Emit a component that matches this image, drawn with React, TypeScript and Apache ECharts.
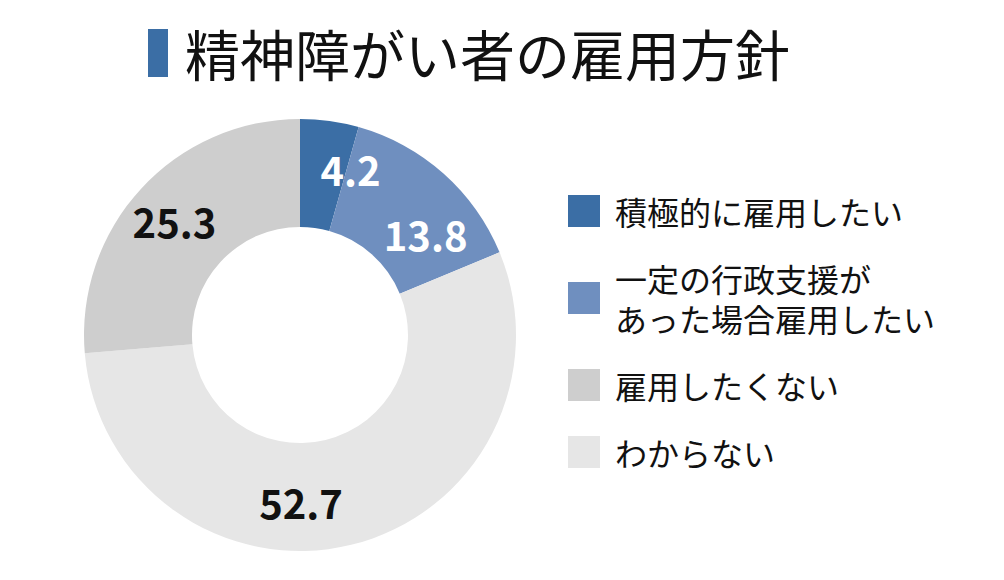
import React, { useEffect, useRef } from 'react';
import * as echarts from 'echarts';

const titleText = '精神障がい者の雇用方針';
// pie order, clockwise from 12 o'clock
const categories = [
  '積極的に雇用したい',
  '一定の行政支援があった場合雇用したい',
  'わからない',
  '雇用したくない',
];
const values = [4.2, 13.8, 52.7, 25.3];
const legendOrder = [0, 1, 3, 2]; // legend lists 雇用したくない before わからない
const legendBreaks: Record<string, string> = {
  '一定の行政支援があった場合雇用したい': '一定の行政支援が\nあった場合雇用したい',
};

const colors = ['#3b6ea5', '#6f8fbf', '#e6e6e6', '#cecece'];
const labelColors = ['#ffffff', '#ffffff', '#111111', '#111111'];
// nudges away from the default inside position
const labelShift = [
  [28, -3],
  [16, 22],
  [-38, 7],
  [-4, -2],
];

const FONT = '"Noto Sans CJK JP", "Noto Sans", sans-serif';

const App = () => {
  const chartRef = useRef(null);

  useEffect(() => {
    if (!chartRef.current) return;
    const chart = echarts.init(chartRef.current, null, { renderer: 'svg' });

    const option = {
      animation: false,
      backgroundColor: '#ffffff',
      title: {
        text: titleText,
        left: 185,
        top: 24,
        padding: 0,
        textStyle: {
          fontFamily: FONT,
          fontSize: 55,
          fontWeight: 'normal',
          color: '#111111',
        },
      },
      graphic: [
        {
          type: 'rect',
          shape: { x: 148, y: 29, width: 20, height: 48 },
          style: { fill: '#3b6ea5' },
        },
      ],
      legend: {
        orient: 'vertical',
        left: 563,
        top: 186,
        itemWidth: 32,
        itemHeight: 32,
        itemGap: 27,
        icon: 'rect',
        data: legendOrder.map((i) => categories[i]),
        formatter: (name) => legendBreaks[name] || name,
        textStyle: {
          fontFamily: FONT,
          fontSize: 32,
          lineHeight: 40,
          color: '#111111',
          padding: [0, 0, 0, 10],
        },
      },
      series: [
        {
          type: 'pie',
          center: [300, 335],
          radius: [108, 216],
          startAngle: 90,
          clockwise: true,
          avoidLabelOverlap: false,
          label: {
            show: true,
            position: 'inside',
            formatter: (p) => p.value.toFixed(1),
            fontFamily: FONT,
            fontSize: 40,
            fontWeight: 'bold',
          },
          labelLine: { show: false },
          emphasis: { disabled: true },
          labelLayout: (params) => ({
            dx: labelShift[params.dataIndex][0],
            dy: labelShift[params.dataIndex][1],
          }),
          data: categories.map((name, i) => ({
            name,
            value: values[i],
            itemStyle: { color: colors[i] },
            label: { color: labelColors[i] },
          })),
        },
      ],
    };

    chart.setOption(option);

    return () => {
      chart.dispose();
    };
  }, []);

  return (
    <div
      ref={chartRef}
      style={{ position: 'absolute', left: 0, top: 0, width: '1004px', height: '580px' }}
    />
  );
};

export default App;
